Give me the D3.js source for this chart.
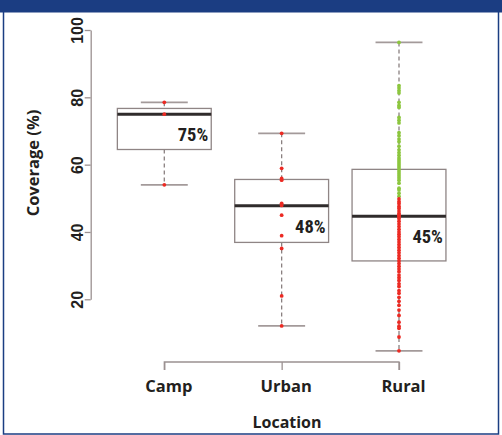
<!DOCTYPE html>
<html>
<head>
<meta charset="utf-8">
<script src="https://cdn.jsdelivr.net/npm/d3@7"></script>
<style>
  html, body { margin: 0; padding: 0; background: #fff; }
  svg { display: block; }
</style>
</head>
<body>
<svg id="chart" width="502" height="435"></svg>
<script>
// ---- data ----
const categories = ["Camp", "Urban", "Rural"];
const boxMin    = [54.0, 12.1, 4.7];
const boxQ1     = [64.5, 36.9, 31.4];
const boxMedian = [75.0, 47.8, 44.7];
const boxQ3     = [76.7, 55.6, 58.6];
const boxMax    = [78.5, 69.3, 96.3];
const medianLabels = ["75%", "48%", "45%"];
const yTicks = [20, 40, 60, 80, 100];

const campPoints  = [78.5, 75.0, 54.0];
const urbanPoints = [69.3, 58.9, 55.9, 55.4, 48.5, 47.9, 45.0, 38.9, 35.1, 21.0, 12.1];
const ruralPoints = [
  96.3, 83.5, 82.8, 82.0, 81.3, 78.5, 77.6, 77.0, 74.0, 73.2, 72.4, 69.5, 68.6, 67.6,
  66.8, 65.5, 64.4, 63.6, 62.8, 62.0, 61.4, 60.8, 60.2, 59.6, 59.0, 58.4, 57.8, 57.2,
  56.6, 56.0, 55.4, 54.5, 53.0, 52.5, 51.5, 50.6,
  49.8, 49.0, 48.4, 47.6, 47.0, 46.2, 45.5, 45.0, 44.7, 44.0, 43.2, 42.4, 41.6, 40.8,
  40.0, 39.3, 38.6, 37.8, 37.0, 36.2, 35.4, 34.6, 33.8, 33.0, 32.2, 31.4, 30.6, 29.8,
  29.0, 28.2, 27.2, 26.4, 25.6, 24.6, 23.8, 22.6, 21.8, 20.6, 19.4, 18.2, 16.8, 15.2,
  13.2, 12.0, 11.4, 8.8, 4.7
];
const pointSets = [campPoints, urbanPoints, ruralPoints];
const targetThreshold = 50; // rural districts at/above shown green

// ---- layout ----
const svg = d3.select("#chart");
const W = 502, H = 435;
const x = d3.scalePoint().domain(categories).range([164.3, 399]);
const y = d3.scaleLinear().domain([20, 100]).range([299.3, 30]);
const step = x.step();
const boxW = step * 0.8;
const capW = boxW * 0.5;

const axisColor = "#9b9191";
const boxColor = "#8f8585";
const red = "#ec2a23";
const green = "#8cc63e";
const blue = "#1b3d82";
const font = "'Open Sans', 'Liberation Sans', sans-serif";

// frame & header
svg.append("rect").attr("x", 0).attr("y", 0).attr("width", W).attr("height", H).attr("fill", "#fff");
svg.append("rect").attr("x", 3.5).attr("y", 6).attr("width", W - 7).attr("height", H - 7)
  .attr("fill", "none").attr("stroke", blue).attr("stroke-width", 1.5);
svg.append("rect").attr("x", 0).attr("y", 0).attr("width", W).attr("height", 12.5).attr("fill", blue);

// y axis
const yAxisG = svg.append("g").attr("transform", "translate(90.7,0)")
  .call(d3.axisLeft(y).tickValues(yTicks).tickSize(6).tickSizeOuter(0).tickFormat(d3.format("d")));
yAxisG.select(".domain").attr("stroke", axisColor).attr("stroke-width", 1.3);
yAxisG.selectAll(".tick line").attr("stroke", axisColor).attr("stroke-width", 1.3);
yAxisG.selectAll(".tick text")
  .attr("transform", "rotate(-90)")
  .attr("x", 0).attr("y", -8).attr("dy", 0)
  .attr("text-anchor", "middle")
  .style("font-family", "'Liberation Sans', sans-serif").style("font-size", "16px").style("font-weight", "700")
  .attr("fill", "#231f20");

// x axis
const xAxisG = svg.append("g").attr("transform", "translate(0,362)")
  .call(d3.axisBottom(x).tickSize(8).tickSizeOuter(0));
xAxisG.select(".domain").attr("stroke", axisColor).attr("stroke-width", 1.3)
  .attr("d", `M${x(categories[0])},8V0H${x(categories[2])}V8`);
xAxisG.selectAll(".tick line").attr("stroke", axisColor).attr("stroke-width", 1.3);
xAxisG.selectAll(".tick text")
  .attr("y", 30).attr("dy", 0).attr("dx", 4)
  .style("font-family", font).style("font-size", "16.5px").style("font-weight", "700")
  .attr("fill", "#231f20");

// axis titles
svg.append("text").attr("transform", `translate(39,163) rotate(-90)`)
  .attr("text-anchor", "middle")
  .style("font-family", font).style("font-size", "16.5px").style("font-weight", "700")
  .attr("fill", "#231f20").text("Coverage (%)");
svg.append("text").attr("x", 287).attr("y", 428)
  .attr("text-anchor", "middle")
  .style("font-family", font).style("font-size", "16px").style("font-weight", "700")
  .attr("fill", "#231f20").text("Location");

// boxes
const boxes = svg.append("g").selectAll("g").data(categories).join("g");
boxes.each(function(c, i) {
  const g = d3.select(this);
  const cx = x(c);
  g.append("line").attr("x1", cx).attr("x2", cx).attr("y1", y(boxMax[i])).attr("y2", y(boxQ3[i]))
    .attr("stroke", "#8a8080").attr("stroke-width", 1.3).attr("stroke-dasharray", "4,3");
  g.append("line").attr("x1", cx).attr("x2", cx).attr("y1", y(boxQ1[i])).attr("y2", y(boxMin[i]))
    .attr("stroke", "#8a8080").attr("stroke-width", 1.3).attr("stroke-dasharray", "4,3");
  [boxMax[i], boxMin[i]].forEach(v => {
    g.append("line").attr("x1", cx - capW / 2).attr("x2", cx + capW / 2).attr("y1", y(v)).attr("y2", y(v))
      .attr("stroke", "#a39a9a").attr("stroke-width", 1.8);
  });
  g.append("rect").attr("x", cx - boxW / 2).attr("y", y(boxQ3[i]))
    .attr("width", boxW).attr("height", y(boxQ1[i]) - y(boxQ3[i]))
    .attr("fill", "none").attr("stroke", boxColor).attr("stroke-width", 1.3);
  g.append("line").attr("x1", cx - boxW / 2).attr("x2", cx + boxW / 2)
    .attr("y1", y(boxMedian[i])).attr("y2", y(boxMedian[i]))
    .attr("stroke", "#2f2b2b").attr("stroke-width", 3);
});

// points
categories.forEach((c, i) => {
  svg.append("g").selectAll("circle").data(pointSets[i]).join("circle")
    .attr("cx", x(c)).attr("cy", d => y(d)).attr("r", 1.9)
    .attr("fill", d => (i === 2 && d >= targetThreshold) ? green : red);
});

// median labels
categories.forEach((c, i) => {
  svg.append("text")
    .attr("x", x(c) + boxW / 2 - 3).attr("y", y(boxMedian[i]) + 27)
    .attr("text-anchor", "end")
    .style("font-family", "'Liberation Sans Narrow', 'Roboto Condensed', 'Liberation Sans', sans-serif")
    .style("font-size", "18.5px").style("font-weight", "700")
    .attr("fill", "#231f20").text(medianLabels[i]);
});
</script>
</body>
</html>
